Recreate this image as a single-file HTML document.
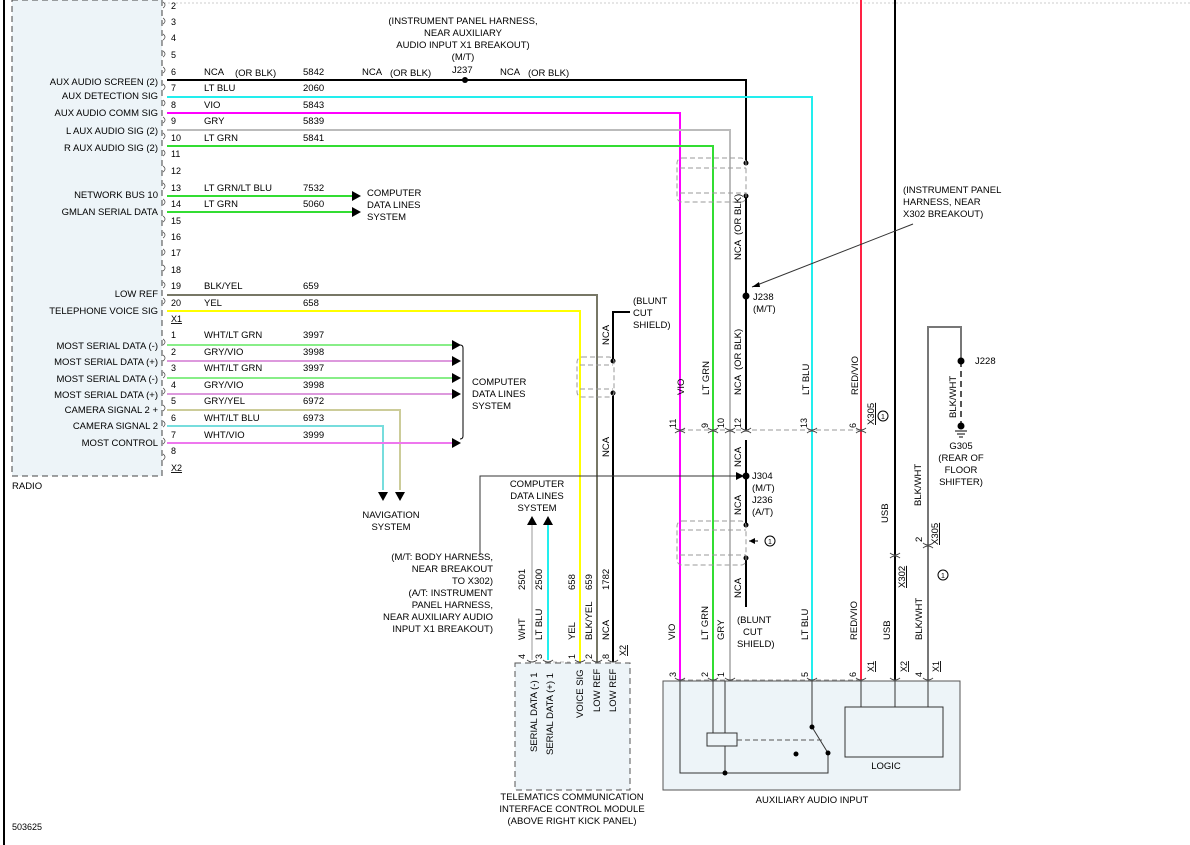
<!DOCTYPE html>
<html><head><meta charset="utf-8"><style>
body{margin:0;background:#fff}
svg{display:block;font-family:"Liberation Sans",Arial,sans-serif;font-size:9.5px}
</style></head><body>
<svg width="1190" height="845" viewBox="0 0 1190 845" xmlns="http://www.w3.org/2000/svg">
<line x1="4" y1="0" x2="4" y2="845" stroke="#000" stroke-width="2"/>
<line x1="12" y1="3" x2="1190" y2="3" stroke="#ccc" stroke-dasharray="2,2"/>
<!-- radio box -->
<rect x="12" y="0" width="150" height="476" fill="#edf4f8" stroke="#444" stroke-dasharray="6,4"/>
<!-- telematics & aux boxes first -->
<rect x="515" y="663" width="115" height="127" fill="#edf4f8" stroke="#555" stroke-dasharray="6,4"/>
<rect x="663" y="681" width="297" height="109" fill="#edf4f8" stroke="#555"/>
<text x="12" y="489">RADIO</text>
<g text-anchor="end">
<text x="158" y="85">AUX AUDIO SCREEN (2)</text>
<text x="158" y="99">AUX DETECTION SIG</text>
<text x="158" y="116">AUX AUDIO COMM SIG</text>
<text x="158" y="134">L AUX AUDIO SIG (2)</text>
<text x="158" y="151">R AUX AUDIO SIG (2)</text>
<text x="158" y="198">NETWORK BUS 10</text>
<text x="158" y="215">GMLAN SERIAL DATA</text>
<text x="158" y="297">LOW REF</text>
<text x="158" y="314">TELEPHONE VOICE SIG</text>
<text x="158" y="349">MOST SERIAL DATA (-)</text>
<text x="158" y="365">MOST SERIAL DATA (+)</text>
<text x="158" y="382">MOST SERIAL DATA (-)</text>
<text x="158" y="398">MOST SERIAL DATA (+)</text>
<text x="158" y="413">CAMERA SIGNAL 2 +</text>
<text x="158" y="429">CAMERA SIGNAL 2</text>
<text x="158" y="446">MOST CONTROL</text>
</g>
<g font-size="9">
<text x="171" y="9">2</text><text x="171" y="25">3</text><text x="171" y="41">4</text><text x="171" y="58">5</text><text x="171" y="75">6</text><text x="171" y="91">7</text><text x="171" y="108">8</text><text x="171" y="124">9</text><text x="171" y="141">10</text><text x="171" y="157">11</text><text x="171" y="174">12</text><text x="171" y="191">13</text><text x="171" y="207">14</text><text x="171" y="224">15</text><text x="171" y="240">16</text><text x="171" y="256">17</text><text x="171" y="273">18</text><text x="171" y="289">19</text><text x="171" y="306">20</text><text x="171" y="322" text-decoration="underline">X1</text>
<text x="171" y="338">1</text><text x="171" y="355">2</text><text x="171" y="371">3</text><text x="171" y="388">4</text><text x="171" y="404">5</text><text x="171" y="421">6</text><text x="171" y="438">7</text><text x="171" y="454">8</text><text x="171" y="471" text-decoration="underline">X2</text>
</g>
<g stroke="#555" fill="none" stroke-width="0.8">
<path d="M163,2 q4,3 0,6 M163,18 q4,3 0,6 M163,34 q4,3 0,6 M163,51 q4,3 0,6 M163,67 q4,3 0,6 M163,84 q4,3 0,6 M163,100 q4,3 0,6 M163,117 q4,3 0,6 M163,133 q4,3 0,6 M163,150 q4,3 0,6 M163,166 q4,3 0,6 M163,183 q4,3 0,6 M163,199 q4,3 0,6 M163,216 q4,3 0,6 M163,232 q4,3 0,6 M163,249 q4,3 0,6 M163,265 q4,3 0,6 M163,282 q4,3 0,6 M163,298 q4,3 0,6 M163,339 q4,3 0,6 M163,355 q4,3 0,6 M163,372 q4,3 0,6 M163,388 q4,3 0,6 M163,405 q4,3 0,6 M163,421 q4,3 0,6 M163,438 q4,3 0,6 M163,454 q4,3 0,6"/>
</g>
<g>
<text x="204" y="75">NCA</text><text x="235" y="76">(OR BLK)</text><text x="303" y="75">5842</text>
<text x="362" y="75">NCA</text><text x="390" y="76">(OR BLK)</text><text x="500" y="75">NCA</text><text x="528" y="76">(OR BLK)</text>
<text x="204" y="91">LT BLU</text><text x="303" y="91">2060</text>
<text x="204" y="108">VIO</text><text x="303" y="108">5843</text>
<text x="204" y="124">GRY</text><text x="303" y="124">5839</text>
<text x="204" y="141">LT GRN</text><text x="303" y="141">5841</text>
<text x="204" y="191">LT GRN/LT BLU</text><text x="303" y="191">7532</text>
<text x="204" y="207">LT GRN</text><text x="303" y="207">5060</text>
<text x="204" y="289">BLK/YEL</text><text x="303" y="289">659</text>
<text x="204" y="306">YEL</text><text x="303" y="306">658</text>
<text x="204" y="338">WHT/LT GRN</text><text x="303" y="338">3997</text>
<text x="204" y="355">GRY/VIO</text><text x="303" y="355">3998</text>
<text x="204" y="371">WHT/LT GRN</text><text x="303" y="371">3997</text>
<text x="204" y="388">GRY/VIO</text><text x="303" y="388">3998</text>
<text x="204" y="404">GRY/YEL</text><text x="303" y="404">6972</text>
<text x="204" y="421">WHT/LT BLU</text><text x="303" y="421">6973</text>
<text x="204" y="438">WHT/VIO</text><text x="303" y="438">3999</text>
</g>
<g text-anchor="middle">
<text x="463" y="24">(INSTRUMENT PANEL HARNESS,</text>
<text x="463" y="36">NEAR AUXILIARY</text>
<text x="463" y="48">AUDIO INPUT X1 BREAKOUT)</text>
<text x="463" y="60">(M/T)</text>
</g>
<text x="452" y="73">J237</text>
<g fill="none" stroke-width="2">
<path d="M167,80 H746 V163" stroke="#000"/>
<path d="M746,196 V430 M746,440 V525 M746,558 V607" stroke="#000"/>
<path d="M167,97 H812 V680" stroke="#2ee"/>
<path d="M167,113 H680 V680" stroke="#f0f"/>
<path d="M167,130 H730 V680" stroke="#bbb"/>
<path d="M167,146 H713 V680" stroke="#3d3"/>
<path d="M167,196 H352" stroke="#3d3"/>
<path d="M167,212 H352" stroke="#3d3"/>
<path d="M167,295 H597 V662" stroke="#776"/>
<path d="M167,311 H580 V662" stroke="#ff0"/>
<path d="M630,312 H613 V361 M613,393 V662" stroke="#000"/>
<path d="M167,345 H452" stroke="#8e8"/>
<path d="M167,361 H452" stroke="#d9d"/>
<path d="M167,378 H452" stroke="#8e8"/>
<path d="M167,394 H452" stroke="#d9d"/>
<path d="M167,410 H400 V490" stroke="#cc9"/>
<path d="M167,426 H383 V490" stroke="#7dd"/>
<path d="M167,443 H452" stroke="#e7e"/>
<path d="M861,0 V680" stroke="#f24"/>
<path d="M895,0 V680" stroke="#000"/>
<path d="M928,680 V327 H961 V361" stroke="#777"/>
<path d="M532,660 V524" stroke="#ccc"/>
<path d="M548,660 V524" stroke="#2ee"/>
</g>
<line x1="961" y1="361" x2="961" y2="425" stroke="#555" stroke-width="2" stroke-dasharray="6,4"/>
<circle cx="465" cy="80" r="3"/>
<circle cx="746" cy="296" r="3.5"/><circle cx="746" cy="476" r="3.5"/>
<circle cx="746" cy="163" r="2.5"/><circle cx="746" cy="196" r="2.5"/>
<circle cx="746" cy="525" r="2.5"/><circle cx="746" cy="558" r="2.5"/>
<circle cx="613" cy="361" r="2.5"/><circle cx="613" cy="393" r="2.5"/>
<circle cx="961" cy="361" r="3.5"/><circle cx="961" cy="426" r="3.5"/>
<path d="M955,431 h12 M957,434 h8 M959,437 h4" stroke="#000"/>
<path d="M352,191 l9,5 -9,5z M352,207 l9,5 -9,5z M452,340 l9,5 -9,5z M452,356 l9,5 -9,5z M452,373 l9,5 -9,5z M452,389 l9,5 -9,5z M452,438 l9,5 -9,5z M378,492 l5,9 5,-9z M395,492 l5,9 5,-9z M527,525 l5,-9 5,9z M543,525 l5,-9 5,9z"/>
<path d="M460,345 q3,0 3,3 V436 q0,3 -3,3" fill="none" stroke="#000"/>
<text x="367" y="196">COMPUTER</text><text x="367" y="208">DATA LINES</text><text x="367" y="220">SYSTEM</text>
<text x="472" y="385">COMPUTER</text><text x="472" y="397">DATA LINES</text><text x="472" y="409">SYSTEM</text>
<g text-anchor="middle"><text x="391" y="518">NAVIGATION</text><text x="391" y="530">SYSTEM</text>
<text x="537" y="487">COMPUTER</text><text x="537" y="499">DATA LINES</text><text x="537" y="511">SYSTEM</text></g>
<g fill="none" stroke="#999" stroke-dasharray="5,3">
<rect x="677" y="158" width="69" height="44" rx="5"/><line x1="680" y1="168" x2="746" y2="168"/><line x1="680" y1="193" x2="746" y2="193"/>
<rect x="577" y="357" width="37" height="40" rx="5"/><line x1="580" y1="365" x2="613" y2="365"/><line x1="580" y1="389" x2="613" y2="389"/>
<rect x="677" y="521" width="69" height="44" rx="5"/><line x1="680" y1="530" x2="746" y2="530"/><line x1="680" y1="555" x2="746" y2="555"/>
<line x1="680" y1="430" x2="861" y2="430"/>
<line x1="680" y1="680" x2="861" y2="680"/>
</g>
<text x="633" y="304">(BLUNT</text><text x="633" y="316">CUT</text><text x="633" y="328">SHIELD)</text>
<text x="903" y="193">(INSTRUMENT PANEL</text><text x="903" y="205">HARNESS, NEAR</text><text x="903" y="217">X302 BREAKOUT)</text>
<line x1="913" y1="224" x2="752" y2="287" stroke="#333"/><path d="M752,287 l7,-5 1,5z"/>
<text x="753" y="300">J238</text><text x="753" y="312">(M/T)</text>
<text x="975" y="364">J228</text>
<g text-anchor="middle"><text x="961" y="449">G305</text><text x="961" y="461">(REAR OF</text><text x="961" y="473">FLOOR</text><text x="961" y="485">SHIFTER)</text></g>
<text x="752" y="479">J304</text><text x="752" y="491">(M/T)</text><text x="752" y="503">J236</text><text x="752" y="515">(A/T)</text>
<path d="M480,555 V476 H736" fill="none" stroke="#333"/><path d="M736,472 l8,4 -8,4z"/>
<path d="M758,541 H749" stroke="#000"/><path d="M749,541 l6,-3 0,6z"/><circle cx="770" cy="541" r="5" fill="none" stroke="#000"/><text x="768" y="544" font-size="7">1</text>
<circle cx="883" cy="416" r="5" fill="none" stroke="#000"/><text x="881" y="419" font-size="7">1</text>
<circle cx="943" cy="575" r="5" fill="none" stroke="#000"/><text x="941" y="578" font-size="7">1</text>
<text x="737" y="623">(BLUNT</text><text x="743" y="635">CUT</text><text x="737" y="647">SHIELD)</text>
<g text-anchor="end">
<text x="493" y="560">(M/T: BODY HARNESS,</text><text x="493" y="572">NEAR BREAKOUT</text><text x="493" y="584">TO X302)</text>
<text x="493" y="596">(A/T: INSTRUMENT</text><text x="493" y="608">PANEL HARNESS,</text><text x="493" y="620">NEAR AUXILIARY AUDIO</text><text x="493" y="632">INPUT X1 BREAKOUT)</text>
</g>
<g>
<text transform="translate(684,395) rotate(-90)">VIO</text>
<text transform="translate(709,395) rotate(-90)">LT GRN</text>
<text transform="translate(741,395) rotate(-90)">NCA</text>
<text transform="translate(741,370) rotate(-90)">(OR BLK)</text>
<text transform="translate(741,260) rotate(-90)">NCA</text>
<text transform="translate(741,235) rotate(-90)">(OR BLK)</text>
<text transform="translate(809,395) rotate(-90)">LT BLU</text>
<text transform="translate(858,395) rotate(-90)">RED/VIO</text>
<text transform="translate(874,425) rotate(-90)" text-decoration="underline">X305</text>
<text transform="translate(956,418) rotate(-90)">BLK/WHT</text>
<text transform="translate(609,345) rotate(-90)">NCA</text>
<text transform="translate(609,457) rotate(-90)">NCA</text>
<text transform="translate(741,467) rotate(-90)">NCA</text>
<text transform="translate(741,515) rotate(-90)">NCA</text>
<text transform="translate(741,598) rotate(-90)">NCA</text>
<text transform="translate(888,523) rotate(-90)">USB</text>
<text transform="translate(921,506) rotate(-90)">BLK/WHT</text>
<text transform="translate(905,588) rotate(-90)" text-decoration="underline">X302</text>
<text transform="translate(938,545) rotate(-90)" text-decoration="underline">X305</text>
<text transform="translate(922,542) rotate(-90)">2</text>
<g font-size="9"><text transform="translate(676,428) rotate(-90)">11</text><text transform="translate(708,428) rotate(-90)">9</text><text transform="translate(724,428) rotate(-90)">10</text><text transform="translate(741,428) rotate(-90)">12</text><text transform="translate(807,428) rotate(-90)">13</text><text transform="translate(856,428) rotate(-90)">6</text></g>
<text transform="translate(675,640) rotate(-90)">VIO</text>
<text transform="translate(708,640) rotate(-90)">LT GRN</text>
<text transform="translate(724,640) rotate(-90)">GRY</text>
<text transform="translate(808,640) rotate(-90)">LT BLU</text>
<text transform="translate(857,640) rotate(-90)">RED/VIO</text>
<text transform="translate(890,640) rotate(-90)">USB</text>
<text transform="translate(922,640) rotate(-90)">BLK/WHT</text>
<g font-size="9"><text transform="translate(676,677) rotate(-90)">3</text><text transform="translate(708,677) rotate(-90)">2</text><text transform="translate(724,677) rotate(-90)">1</text><text transform="translate(808,677) rotate(-90)">5</text><text transform="translate(856,677) rotate(-90)">6</text><text transform="translate(922,677) rotate(-90)">4</text>
<text transform="translate(874,672) rotate(-90)" text-decoration="underline">X1</text><text transform="translate(907,672) rotate(-90)" text-decoration="underline">X2</text><text transform="translate(939,672) rotate(-90)" text-decoration="underline">X1</text></g>
<text transform="translate(525,640) rotate(-90)">WHT</text><text transform="translate(525,590) rotate(-90)">2501</text>
<text transform="translate(542,640) rotate(-90)">LT BLU</text><text transform="translate(542,590) rotate(-90)">2500</text>
<text transform="translate(575,640) rotate(-90)">YEL</text><text transform="translate(575,590) rotate(-90)">658</text>
<text transform="translate(592,640) rotate(-90)">BLK/YEL</text><text transform="translate(592,590) rotate(-90)">659</text>
<text transform="translate(609,640) rotate(-90)">NCA</text><text transform="translate(609,590) rotate(-90)">1782</text>
<g font-size="9"><text transform="translate(525,659) rotate(-90)">4</text><text transform="translate(542,659) rotate(-90)">3</text><text transform="translate(575,659) rotate(-90)">1</text><text transform="translate(592,659) rotate(-90)">2</text><text transform="translate(609,659) rotate(-90)">8</text><text transform="translate(626,656) rotate(-90)" text-decoration="underline">X2</text></g>
<text transform="translate(537,752) rotate(-90)">SERIAL DATA (-) 1</text>
<text transform="translate(553,755) rotate(-90)">SERIAL DATA (+) 1</text>
<text transform="translate(583,718) rotate(-90)">VOICE SIG</text>
<text transform="translate(600,712) rotate(-90)">LOW REF</text>
<text transform="translate(616,712) rotate(-90)">LOW REF</text>
</g>
<g fill="none" stroke="#444">
<path d="M675,428 q5,4 10,0 M675,433 q5,-4 10,0 M708,428 q5,4 10,0 M708,433 q5,-4 10,0 M725,428 q5,4 10,0 M725,433 q5,-4 10,0 M741,428 q5,4 10,0 M741,433 q5,-4 10,0 M807,428 q5,4 10,0 M807,433 q5,-4 10,0 M856,428 q5,4 10,0 M856,433 q5,-4 10,0"/>
<path d="M890,553 q5,4 10,0 M890,558 q5,-4 10,0 M923,543 q5,4 10,0 M923,548 q5,-4 10,0"/>
<path d="M675,678 q5,4 10,0 M708,678 q5,4 10,0 M725,678 q5,4 10,0 M807,678 q5,4 10,0 M856,678 q5,4 10,0 M890,678 q5,4 10,0 M923,678 q5,4 10,0 M527,660 q5,4 10,0 M543,660 q5,4 10,0 M575,660 q5,4 10,0 M592,660 q5,4 10,0 M608,660 q5,4 10,0"/>
</g>
<line x1="553" y1="662" x2="570" y2="662" stroke="#bbb" stroke-dasharray="4,3"/>
<g text-anchor="middle"><text x="572" y="800">TELEMATICS COMMUNICATION</text><text x="572" y="812">INTERFACE CONTROL MODULE</text><text x="572" y="824">(ABOVE RIGHT KICK PANEL)</text></g>
<text x="812" y="803" text-anchor="middle">AUXILIARY AUDIO INPUT</text>
<g fill="none" stroke="#333">
<path d="M680,681 V773 H828 V753"/>
<path d="M713,681 V733 M725,681 V733"/>
<rect x="707" y="733" width="30" height="13"/>
<path d="M725,746 V773"/>
<path d="M812,681 V727 L828,753"/>
<rect x="845" y="707" width="98" height="50"/>
<path d="M861,681 V707 M895,681 V707 M928,681 V707"/>
</g>
<line x1="737" y1="740" x2="822" y2="740" stroke="#555" stroke-dasharray="5,3"/>
<circle cx="725" cy="773" r="2.5"/><circle cx="812" cy="727" r="2.5"/><circle cx="828" cy="753" r="2.5"/><circle cx="796" cy="754" r="2.5"/>
<text x="886" y="769" text-anchor="middle">LOGIC</text>
<text x="12" y="830" font-size="9">503625</text>
</svg>
</body></html>
